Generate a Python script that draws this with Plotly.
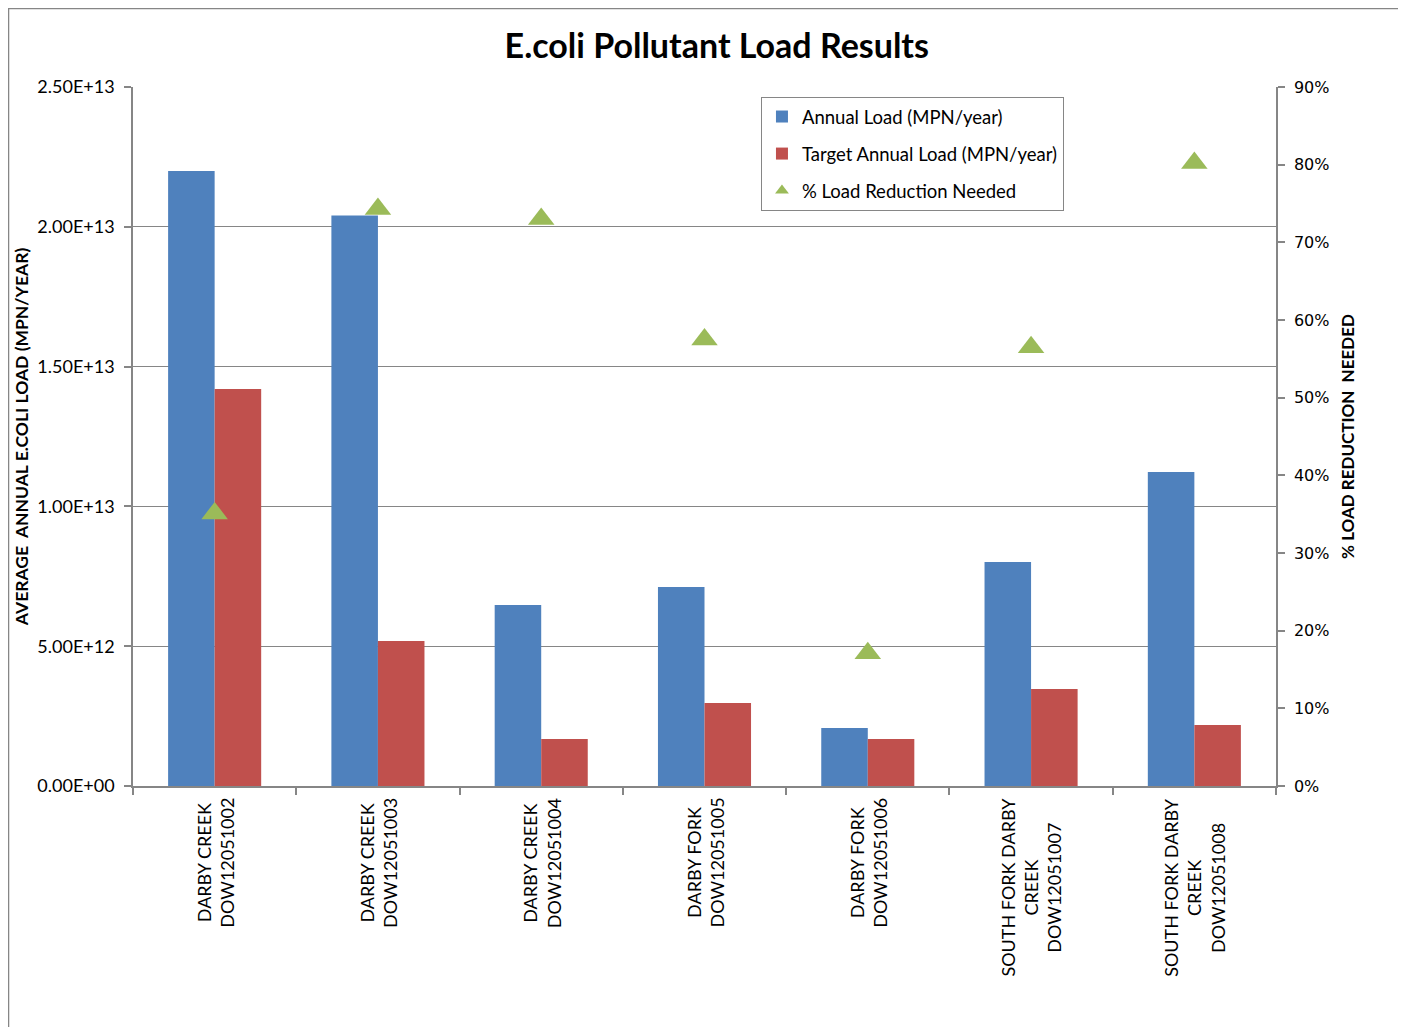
import plotly.graph_objects as go

sites = [
    "DARBY CREEK<br>DOW12051002",
    "DARBY CREEK<br>DOW12051003",
    "DARBY CREEK<br>DOW12051004",
    "DARBY FORK<br>DOW12051005",
    "DARBY FORK<br>DOW12051006",
    "SOUTH FORK DARBY<br>CREEK<br>DOW12051007",
    "SOUTH FORK DARBY<br>CREEK<br>DOW12051008",
]
annual_load = [2.20e13, 2.04e13, 6.47e12, 7.12e12, 2.07e12, 8.01e12, 1.123e13]
target_load = [1.42e13, 5.19e12, 1.68e12, 2.97e12, 1.68e12, 3.47e12, 2.18e12]
pct_reduction = [0.351, 0.743, 0.730, 0.575, 0.171, 0.565, 0.802]

load_ticks = [0, 5e12, 1e13, 1.5e13, 2e13, 2.5e13]
load_tick_text = ["0.00E+00", "5.00E+12", "1.00E+13", "1.50E+13", "2.00E+13", "2.50E+13"]

FONT = "Lato"
FONT2 = "DejaVu Sans"
GRAY = "#868686"

fig = go.Figure()
fig.add_trace(go.Bar(x=sites, y=annual_load, name="Annual Load (MPN/year)",
                     marker=dict(color="#4F81BD", line=dict(width=0)), legendgroup="a"))
fig.add_trace(go.Bar(x=sites, y=target_load, name="Target Annual Load (MPN/year)",
                     marker=dict(color="#C0504D", line=dict(width=0)), legendgroup="b"))
fig.add_trace(go.Scatter(x=sites, y=pct_reduction, name="% Load Reduction Needed", yaxis="y2",
                         mode="markers", legendgroup="c",
                         marker=dict(symbol="triangle-up", size=23, color="#9BBB59")))

# category labels, rotated and centred like the original
for s in sites:
    fig.add_annotation(x=s, xref="x", y=0, yref="paper", yanchor="top", yshift=-10,
                       text=s, textangle=-90, align="center", showarrow=False,
                       font=dict(family=FONT, size=18, color="#000"))

# outer chart frame
fig.add_shape(type="rect", xref="paper", yref="paper", x0=-0.1089, x1=1.6, y0=-1.0, y1=1.1123,
              line=dict(color=GRAY, width=1.5), fillcolor="rgba(0,0,0,0)", layer="below")

# page body has an 8px margin, so the figure is shrunk by that much
fig.update_layout(
    width=1398, height=1019, autosize=False,
    paper_bgcolor="white", plot_bgcolor="white",
    margin=dict(l=125, r=130, t=79, b=241),
    font=dict(family=FONT, size=18, color="#000"),
    title=dict(text="<b>E.coli Pollutant Load Results</b>", x=0.507, xanchor="center",
               y=0.963, yanchor="middle", font=dict(family=FONT, size=34, color="#000")),
    barmode="group", bargap=0.43, bargroupgap=0,
    legend=dict(x=0.5494, y=0.9857, xanchor="left", yanchor="top",
                bordercolor=GRAY, borderwidth=1, bgcolor="white",
                font=dict(family=FONT, size=18.5), tracegroupgap=10, itemsizing="constant",
                itemwidth=30),
    xaxis=dict(showticklabels=False, ticks="outside", tickson="boundaries", ticklen=7,
               tickcolor=GRAY, tickwidth=1.5, showline=True, linecolor=GRAY, linewidth=1.5,
               showgrid=False),
    yaxis=dict(range=[0, 2.5e13], tickvals=load_ticks, ticktext=load_tick_text,
               ticks="outside", ticklen=7, tickcolor=GRAY, tickwidth=1.5, ticklabelstandoff=6,
               showline=True, linecolor=GRAY, linewidth=1.5,
               gridcolor=GRAY, gridwidth=1.2, zeroline=False,
               tickfont=dict(family=FONT, size=18),
               title=dict(text="<b>AVERAGE  ANNUAL E.COLI LOAD (MPN/YEAR)</b>", standoff=4,
                          font=dict(family=FONT, size=17.5))),
    yaxis2=dict(overlaying="y", side="right", range=[0, 0.9], dtick=0.1, tickformat=".0%",
                ticks="outside", ticklen=7, tickcolor=GRAY, tickwidth=1.5, ticklabelstandoff=6,
                showline=True, linecolor=GRAY, linewidth=1.5, showgrid=False, zeroline=False,
                tickfont=dict(family=FONT2, size=16),
                title=dict(text="<b>% LOAD REDUCTION  NEEDED</b>", standoff=14,
                           font=dict(family=FONT, size=17))),
)

fig.write_html("out.html")
